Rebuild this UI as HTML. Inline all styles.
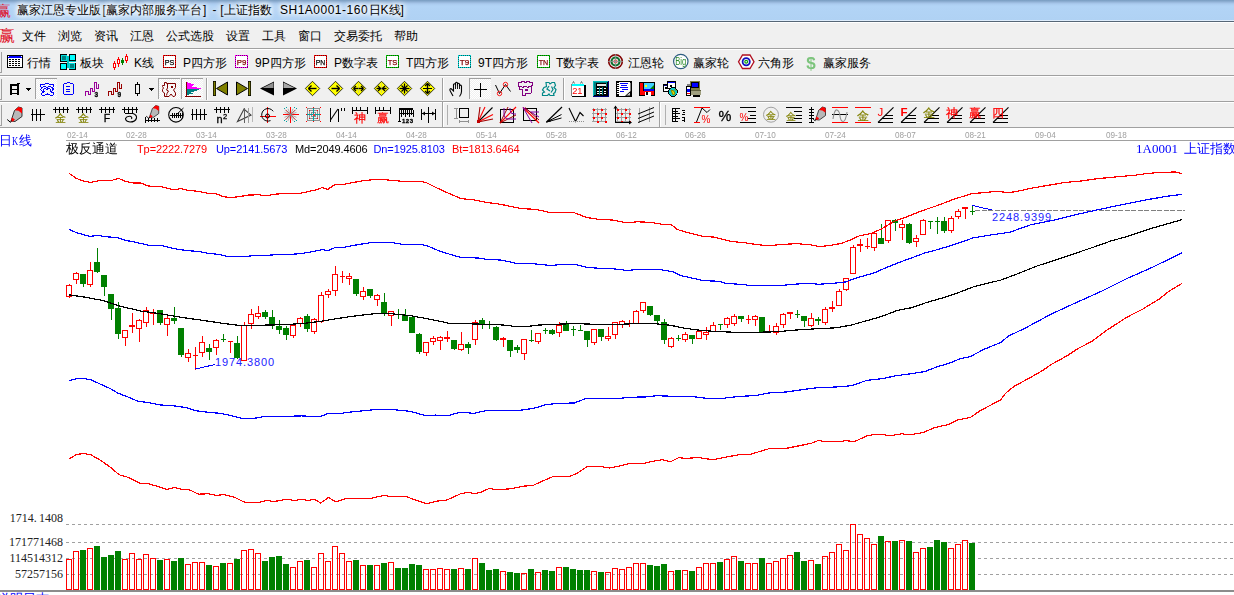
<!DOCTYPE html>
<html lang="zh"><head><meta charset="utf-8"><title>赢家江恩专业版</title>
<style>
html,body{margin:0;padding:0}
body{width:1234px;height:595px;overflow:hidden;position:relative;background:#fff;font-family:"Liberation Sans",sans-serif;font-size:12px;color:#000}
.a{position:absolute;white-space:nowrap}
.ui{position:absolute;left:0;top:0;width:1234px;height:128px;background:#f0f0f0}
.title{position:absolute;left:0;top:0;width:1234px;height:21px;background:linear-gradient(180deg,#789cc0 0px,#84a7cb 1px,#93b3d7 2px,#a1c1e5 3px,#abcbef 4px,#b2d4f6 6px,#b0d2f4 19px,#afd1f3 20px,#deedfc 20px,#deedfc 21px)}
.tt{position:absolute;left:17px;top:2px;font-size:12px;line-height:16px;color:#000;text-shadow:0 0 5px #fff,0 0 5px #fff,0 0 7px #fff,0 0 9px #fff}
.hl{position:absolute;left:0;width:1234px;height:1px}
.mi{position:absolute;top:27.5px;font-size:12px;line-height:16px}
.tl{position:absolute;font-size:12px;line-height:16px}
.grip{position:absolute;width:2px;border-right:1px solid #a0a0a0;border-bottom:1px solid #a0a0a0;left:0;height:21px;box-sizing:border-box}
.sep{position:absolute;width:1px;height:22px;background:#a0a0a0;box-shadow:1px 0 0 #fff}
.pb{position:absolute;width:23px;height:22px;box-sizing:border-box;border:1px solid;border-color:#a0a0a0 #fff #fff #a0a0a0;background:repeating-conic-gradient(#fff 0% 25%,#f0f0f0 0% 50%) 0 0/2px 2px}
svg{position:absolute;overflow:visible}
.dt{position:absolute;top:129.4px;font-size:9.6px;line-height:11px;color:#a0a0a0;transform:scaleX(.85);transform-origin:0 0}
.ind{position:absolute;top:143px;font-size:11px;line-height:13px;letter-spacing:-.1px}
.ss{font-family:"Liberation Serif",serif}
.vl{position:absolute;right:1171px;font-family:"Liberation Serif",serif;font-size:12px;line-height:12px;color:#222}
</style></head><body>

<div class="ui">
<div class="title"></div>
<div class="a ss" style="left:-4px;top:2px;font-size:15px;line-height:18px;color:#e0102a">赢</div>
<div class="tt" style="left:17px;letter-spacing:0px">赢家江恩专业版</div>
<div class="tt" style="left:102.5px;letter-spacing:0px">[</div>
<div class="tt" style="left:106px;letter-spacing:0px">赢家内部服务平台</div>
<div class="tt" style="left:203px;letter-spacing:0px">]</div>
<div class="tt" style="left:212.5px;letter-spacing:0px">-</div>
<div class="tt" style="left:220.3px;letter-spacing:0px">[</div>
<div class="tt" style="left:224px;letter-spacing:0px">上证指数</div>
<div class="tt" style="left:280px;letter-spacing:0.5px">SH1A0001-160</div>
<div class="tt" style="left:368.5px;letter-spacing:0px">日K线]</div>
<div class="hl" style="top:21px;background:#566676"></div>
<div class="hl" style="top:22px;background:#fff"></div>
<div class="a ss" style="left:-1.5px;top:25.5px;font-size:16px;line-height:20px;color:#e0102a">赢</div>
<div class="mi" style="left:22px">文件</div>
<div class="mi" style="left:58px">浏览</div>
<div class="mi" style="left:94px">资讯</div>
<div class="mi" style="left:130px">江恩</div>
<div class="mi" style="left:166px">公式选股</div>
<div class="mi" style="left:226px">设置</div>
<div class="mi" style="left:262px">工具</div>
<div class="mi" style="left:298px">窗口</div>
<div class="mi" style="left:334px">交易委托</div>
<div class="mi" style="left:394px">帮助</div>
<div class="hl" style="top:48px;background:#a0a0a0"></div>
<div class="hl" style="top:49px;background:#fff"></div>
<div class="hl" style="top:75px;background:#a0a0a0"></div>
<div class="hl" style="top:76px;background:#fff"></div>
<div class="hl" style="top:101px;background:#a0a0a0"></div>
<div class="hl" style="top:102px;background:#fff"></div>
<div class="hl" style="top:127px;background:#a0a0a0"></div>
<div class="grip" style="top:52px"></div>
<div class="tl" style="left:27px;top:55px">行情</div>
<div class="tl" style="left:80px;top:55px">板块</div>
<div class="tl" style="left:134px;top:55px">K线</div>
<div class="tl" style="left:183px;top:55px">P四方形</div>
<div class="tl" style="left:255px;top:55px">9P四方形</div>
<div class="tl" style="left:334px;top:55px">P数字表</div>
<div class="tl" style="left:406px;top:55px">T四方形</div>
<div class="tl" style="left:478px;top:55px">9T四方形</div>
<div class="tl" style="left:556px;top:55px">T数字表</div>
<div class="tl" style="left:628px;top:55px">江恩轮</div>
<div class="tl" style="left:693px;top:55px">赢家轮</div>
<div class="tl" style="left:758px;top:55px">六角形</div>
<div class="tl" style="left:823px;top:55px">赢家服务</div>
<svg width="1234" height="128" style="left:0;top:0;will-change:transform" shape-rendering="crispEdges" font-family="Liberation Sans, sans-serif"><rect x="7" y="55" width="16" height="13" fill="#000"/><rect x="8" y="56" width="14" height="2" fill="#00f"/><rect x="8" y="58" width="14" height="9" fill="#fff"/><rect x="9" y="59" width="2" height="1" fill="#000"/><rect x="12" y="59" width="2" height="1" fill="#000"/><rect x="15" y="59" width="2" height="1" fill="#000"/><rect x="18" y="59" width="2" height="1" fill="#000"/><rect x="9" y="61" width="2" height="1" fill="#000"/><rect x="12" y="61" width="2" height="1" fill="#000"/><rect x="15" y="61" width="2" height="1" fill="#000"/><rect x="18" y="61" width="2" height="1" fill="#000"/><rect x="9" y="63" width="2" height="1" fill="#000"/><rect x="12" y="63" width="2" height="1" fill="#000"/><rect x="15" y="63" width="2" height="1" fill="#000"/><rect x="18" y="63" width="2" height="1" fill="#000"/><rect x="9" y="65" width="2" height="1" fill="#000"/><rect x="12" y="65" width="2" height="1" fill="#000"/><rect x="15" y="65" width="2" height="1" fill="#000"/><rect x="18" y="65" width="2" height="1" fill="#000"/><rect x="21" y="56" width="1" height="1" fill="#fff"/><rect x="8" y="56" width="1" height="1" fill="#fff"/><rect x="60" y="54" width="16" height="16" fill="#00c8c8"/><rect x="60" y="54" width="8" height="8" fill="#000"/><rect x="61" y="55" width="6" height="6" fill="#00e0e0"/><rect x="62" y="56" width="4" height="4" fill="#008080"/><rect x="69" y="54" width="7" height="7" fill="#000"/><rect x="70" y="55" width="5" height="5" fill="#0ff"/><rect x="60" y="63" width="7" height="7" fill="#000"/><rect x="61" y="64" width="5" height="5" fill="#0ff"/><rect x="68" y="62" width="8" height="8" fill="#000"/><rect x="69" y="63" width="6" height="6" fill="#00e0e0"/><rect x="70" y="64" width="4" height="4" fill="#008080"/><rect x="67" y="54" width="2" height="16" fill="#f0f0f0"/><rect x="60" y="61.5" width="16" height="1" fill="#f0f0f0"/><rect x="67" y="56" width="2" height="12" fill="#00c8c8"/><rect x="114" y="61" width="1" height="9" fill="#f00"/><rect x="113" y="63" width="3" height="5" fill="#f00"/><rect x="114" y="64" width="1" height="3" fill="#fff"/><rect x="118" y="57" width="1" height="10" fill="#f00"/><rect x="117" y="59" width="3" height="5" fill="#f00"/><rect x="118" y="60" width="1" height="3" fill="#fff"/><rect x="122" y="58" width="1" height="7" fill="#008000"/><rect x="121" y="60" width="3" height="3" fill="#008000"/><rect x="122" y="61" width="1" height="1" fill="#008000"/><rect x="126" y="54" width="1" height="9" fill="#f00"/><rect x="125" y="56" width="3" height="5" fill="#f00"/><rect x="126" y="57" width="1" height="3" fill="#fff"/><rect x="163" y="55" width="13" height="13" fill="#f00"/><rect x="164" y="56" width="11" height="11" fill="#fff"/><rect x="163.5" y="55.5" width="12" height="12" fill="none" stroke="#000" stroke-dasharray="1 1" stroke-opacity=".55"/><text x="169.5" y="65" font-size="8" fill="#000" text-anchor="middle" textLength="9.5" lengthAdjust="spacingAndGlyphs" stroke="#000" stroke-width=".25" shape-rendering="geometricPrecision">PS</text><rect x="235" y="55" width="13" height="13" fill="#f0f"/><rect x="236" y="56" width="11" height="11" fill="#fff"/><rect x="235.5" y="55.5" width="12" height="12" fill="none" stroke="#000" stroke-dasharray="1 1" stroke-opacity=".55"/><text x="241.5" y="65" font-size="8" fill="#800000" text-anchor="middle" textLength="9.5" lengthAdjust="spacingAndGlyphs" stroke="#800000" stroke-width=".25" shape-rendering="geometricPrecision">P9</text><rect x="314" y="55" width="13" height="13" fill="#f00"/><rect x="315" y="56" width="11" height="11" fill="#fff"/><rect x="314.5" y="55.5" width="12" height="12" fill="none" stroke="#000" stroke-dasharray="1 1" stroke-opacity=".55"/><text x="320.5" y="65" font-size="8" fill="#000" text-anchor="middle" textLength="9.5" lengthAdjust="spacingAndGlyphs" stroke="#000" stroke-width=".25" shape-rendering="geometricPrecision">PN</text><rect x="386" y="55" width="13" height="13" fill="#0c0"/><rect x="387" y="56" width="11" height="11" fill="#fff"/><rect x="386.5" y="55.5" width="12" height="12" fill="none" stroke="#000" stroke-dasharray="1 1" stroke-opacity=".55"/><text x="392.5" y="65" font-size="8" fill="#800000" text-anchor="middle" textLength="9.5" lengthAdjust="spacingAndGlyphs" stroke="#800000" stroke-width=".25" shape-rendering="geometricPrecision">TS</text><rect x="458" y="55" width="13" height="13" fill="#0dd"/><rect x="459" y="56" width="11" height="11" fill="#fff"/><rect x="458.5" y="55.5" width="12" height="12" fill="none" stroke="#000" stroke-dasharray="1 1" stroke-opacity=".55"/><text x="464.5" y="65" font-size="8" fill="#800000" text-anchor="middle" textLength="9.5" lengthAdjust="spacingAndGlyphs" stroke="#800000" stroke-width=".25" shape-rendering="geometricPrecision">T9</text><rect x="537" y="55" width="13" height="13" fill="#0c0"/><rect x="538" y="56" width="11" height="11" fill="#fff"/><rect x="537.5" y="55.5" width="12" height="12" fill="none" stroke="#000" stroke-dasharray="1 1" stroke-opacity=".55"/><text x="543.5" y="65" font-size="8" fill="#800000" text-anchor="middle" textLength="9.5" lengthAdjust="spacingAndGlyphs" stroke="#800000" stroke-width=".25" shape-rendering="geometricPrecision">TN</text><g shape-rendering="geometricPrecision"><circle cx="615.5" cy="61.5" r="6.8" stroke="#800000" fill="#f0f0f0" stroke-width="1.6"/><circle cx="615.5" cy="61.5" r="4" stroke="#107030" fill="none" stroke-width="2.2"/><circle cx="615.5" cy="61.5" r="1.6" stroke="#e03030" fill="#fff" stroke-width="1"/><line x1="608" y1="61.5" x2="623" y2="61.5" stroke="#909090" stroke-width="0.8" /><line x1="615.5" y1="54" x2="615.5" y2="69" stroke="#909090" stroke-width="0.8" /><circle cx="680.8" cy="61.5" r="7.2" stroke="#2c5c80" fill="#fff" stroke-width="1.2"/><text x="680.8" y="65" font-size="10.5" fill="#2a8a2a" text-anchor="middle" textLength="11" lengthAdjust="spacingAndGlyphs">Big</text><path d="M738.5 61.8L742.5 55h7.5L754 61.8L750 68.5h-7.5z" stroke="#b01020" fill="#fff" stroke-width="1.3" /><circle cx="746.2" cy="61.8" r="3.6" stroke="#1010c0" fill="#fff" stroke-width="1.8"/><circle cx="746.2" cy="61.8" r="1.4" stroke="#10a010" fill="#fff" stroke-width="1.2"/><text x="811" y="68.5" font-size="17" fill="#7cc47c" text-anchor="middle" font-weight="bold">$</text></g></svg>
<div class="grip" style="top:79px"></div>
<div class="pb" style="left:35px;top:78px;height:21px;width:22px;border-right:0;border-bottom:0"></div>
<div class="pb" style="left:158px;top:78px;height:21px;width:22px;border-right:0;border-bottom:0"></div>
<div class="pb" style="left:181px;top:78px;height:21px;width:22px;border-right:0;border-bottom:0"></div>
<div class="pb" style="left:469px;top:78px;height:21px;width:22px;border-right:0;border-bottom:0"></div>
<div class="sep" style="left:206px;top:78px"></div>
<div class="sep" style="left:442px;top:78px"></div>
<div class="sep" style="left:563px;top:78px"></div>
<svg width="1234" height="128" style="left:0;top:0;will-change:transform" shape-rendering="crispEdges" font-family="Liberation Sans, sans-serif"><rect x="10" y="84" width="2" height="11" fill="#000"/><rect x="17" y="83" width="2" height="12" fill="#000"/><rect x="10" y="84" width="9" height="1.5" fill="#000"/><rect x="10" y="89" width="9" height="1.2" fill="#000"/><rect x="10" y="92.8" width="9" height="1.2" fill="#000"/><rect x="19" y="83" width="1" height="1" fill="#000"/><rect x="26" y="88" width="5" height="1" fill="#000"/><rect x="27" y="89" width="3" height="1" fill="#000"/><rect x="28" y="90" width="1" height="1" fill="#000"/><rect x="149" y="88" width="5" height="1" fill="#000"/><rect x="150" y="89" width="3" height="1" fill="#000"/><rect x="151" y="90" width="1" height="1" fill="#000"/><g shape-rendering="geometricPrecision"><path d="M45 83h4v1h-4zM40 84h5v1h-5zM49 84h5v1h-5zM40 85h1v1h-1zM53 85h1v1h-1zM40 86h1v1h-1zM43 86h3v1h-3zM48 86h3v1h-3zM53 86h1v1h-1zM41 87h2v1h-2zM46 87h2v1h-2zM51 87h2v1h-2zM41 88h1v1h-1zM44 88h2v1h-2zM47 88h3v1h-3zM52 88h2v1h-2zM40 89h1v1h-1zM43 89h1v1h-1zM46 89h2v1h-2zM50 89h1v1h-1zM52 89h2v1h-2zM41 90h1v1h-1zM43 90h1v1h-1zM50 90h1v1h-1zM52 90h1v1h-1zM42 91h3v1h-3zM50 91h2v1h-2zM42 92h2v1h-2zM51 92h3v1h-3zM41 93h1v1h-1zM47 93h1v1h-1zM53 93h1v1h-1zM41 94h1v1h-1zM45 94h5v1h-5zM53 94h1v1h-1zM42 95h3v1h-3zM50 95h3v1h-3z" fill="#00f" shape-rendering="crispEdges"/><path d="M67 82h3v1h-3zM64 83h3v1h-3zM70 83h3v1h-3zM64 94h9v1h-9zM63 86h1v1h-1zM66 86h4v1h-4zM73 86h1v1h-1zM63 89h1v1h-1zM66 89h4v1h-4zM73 89h1v1h-1zM63 91h1v1h-1zM66 91h4v1h-4zM73 91h1v1h-1zM63 84h1v1h-1zM73 84h1v1h-1zM63 85h1v1h-1zM73 85h1v1h-1zM63 87h1v1h-1zM73 87h1v1h-1zM63 88h1v1h-1zM73 88h1v1h-1zM63 90h1v1h-1zM73 90h1v1h-1zM63 92h1v1h-1zM73 92h1v1h-1zM63 93h1v1h-1zM73 93h1v1h-1z" fill="#00f" shape-rendering="crispEdges"/></g><path d="M85.5 96V91.500h2.500V94h2V88.500h2V91.500h2V82.500h2V88h2V84" stroke="#909" fill="none" stroke-width="1" /><g shape-rendering="geometricPrecision"><text x="94.5" y="97" font-size="6.5" fill="#000" font-weight="bold" stroke="#000" stroke-width=".3">3</text></g><path d="M108.5 96V91.500h2.500V94h2V88.500h2V91.500h2V82.500h2V88h2V84" stroke="#900" fill="none" stroke-width="1" /><g shape-rendering="geometricPrecision"><text x="117.5" y="97" font-size="6.5" fill="#000" font-weight="bold" stroke="#000" stroke-width=".3">9</text></g><rect x="137" y="82" width="1" height="14" fill="#000"/><rect x="135" y="84" width="5" height="10" fill="#000"/><rect x="136" y="85" width="3" height="8" fill="#f0f0f0"/><g shape-rendering="geometricPrecision"><path d="M164.500 82.500H166.500V83.500H175.500V87.500L173.500 90L175.500 93V95.500L174 96.500H173L171 94L169 96.500H164.500V93L162.500 91.500V89.500L163.500 88L162.500 86.500V85.500H164.500ZM167.500 84V88L166.500 90L168.500 91L167 93.500L166.500 95.500" stroke="#800000" fill="none" stroke-width="1" /><rect x="171" y="86" width="2" height="2" fill="#800000"/></g><rect x="186" y="82" width="1" height="15" fill="#800000"/><rect x="185" y="96" width="16" height="1" fill="#800000"/><path d="M187 82h1v1h-1zM187 83h4v1h-4zM187 84h7v1h-7zM187 85h6v1h-6zM187 86h5v1h-5zM187 87h10v1h-10zM187 88h14v1h-14z" fill="#f0f" shape-rendering="crispEdges"/><path d="M187 89h12v1h-12zM187 90h10v1h-10zM187 91h7v1h-7zM187 92h4v1h-4zM187 93h6v1h-6zM187 94h2v1h-2z" fill="#008080" shape-rendering="crispEdges"/><g shape-rendering="geometricPrecision"><rect x="213" y="81" width="3" height="15" fill="#000"/><rect x="213.7" y="81.7" width="1.6" height="13.6" fill="#808000"/><path d="M216.500 88.500L227.500 82v13z" stroke="#000" fill="#808000" stroke-width="1" /><rect x="248" y="81" width="3" height="15" fill="#000"/><rect x="248.7" y="81.7" width="1.6" height="13.6" fill="#808000"/><path d="M247.500 88.500L236.500 82v13z" stroke="#000" fill="#808000" stroke-width="1" /><path d="M260 88.500L274 81.500v14z" stroke="none" fill="#000" stroke-width="0" /><path d="M262.500 88L273.500 82.500v5.500z" stroke="none" fill="#909090" stroke-width="0" /><path d="M297 88.500L283 81.500v14z" stroke="none" fill="#000" stroke-width="0" /><path d="M294.500 88L283.500 82.500v5.500z" stroke="none" fill="#a8a8a8" stroke-width="0" /><path d="M305.3 88.5L312.5 81.3L319.7 88.5L312.5 95.7z" stroke="#000" fill="#ff0" stroke-width="0.8" shape-rendering="geometricPrecision"/><line x1="308.5" y1="88.5" x2="316.5" y2="88.5" stroke="#000" stroke-width="1.4" shape-rendering="geometricPrecision"/><path d="M308.5 88.5l3 -3M308.5 88.5l3 3" stroke="#000" fill="none" stroke-width="1.4" shape-rendering="geometricPrecision"/><path d="M328.3 88.5L335.5 81.3L342.7 88.5L335.5 95.7z" stroke="#000" fill="#ff0" stroke-width="0.8" shape-rendering="geometricPrecision"/><line x1="331.5" y1="88.5" x2="339.5" y2="88.5" stroke="#000" stroke-width="1.4" shape-rendering="geometricPrecision"/><path d="M339.5 88.5l-3 -3M339.5 88.5l-3 3" stroke="#000" fill="none" stroke-width="1.4" shape-rendering="geometricPrecision"/><path d="M351.3 88.5L358.5 81.3L365.7 88.5L358.5 95.7z" stroke="#000" fill="#ff0" stroke-width="0.8" shape-rendering="geometricPrecision"/><line x1="353.5" y1="88.5" x2="363.5" y2="88.5" stroke="#000" stroke-width="1.4" shape-rendering="geometricPrecision"/><path d="M353.5 88.5l2.5 -2.5M353.5 88.5l2.5 2.5M363.5 88.5l-2.5 -2.5M363.5 88.5l-2.5 2.5" stroke="#000" fill="none" stroke-width="1.3" shape-rendering="geometricPrecision"/><line x1="358.5" y1="83.5" x2="358.5" y2="93.5" stroke="#bb9" stroke-width="1" shape-rendering="geometricPrecision" stroke-dasharray="1 1"/><path d="M374.3 88.5L381.5 81.3L388.7 88.5L381.5 95.7z" stroke="#000" fill="#ff0" stroke-width="0.8" shape-rendering="geometricPrecision"/><line x1="376.5" y1="88.5" x2="386.5" y2="88.5" stroke="#000" stroke-width="1.4" shape-rendering="geometricPrecision"/><path d="M380.5 88.5l-2.5 -2.5M380.5 88.5l-2.5 2.5M382.5 88.5l2.5 -2.5M382.5 88.5l2.5 2.5" stroke="#000" fill="none" stroke-width="1.3" shape-rendering="geometricPrecision"/><line x1="381.5" y1="83.5" x2="381.5" y2="93.5" stroke="#bb9" stroke-width="1" shape-rendering="geometricPrecision" stroke-dasharray="1 1"/><path d="M397.3 88.5L404.5 81.3L411.7 88.5L404.5 95.7z" stroke="#000" fill="#ff0" stroke-width="0.8" shape-rendering="geometricPrecision"/><line x1="399.5" y1="88.5" x2="409.5" y2="88.5" stroke="#000" stroke-width="1.3" shape-rendering="geometricPrecision"/><line x1="404.5" y1="83.5" x2="404.5" y2="93.5" stroke="#000" stroke-width="1.3" shape-rendering="geometricPrecision"/><line x1="401.5" y1="85.5" x2="407.5" y2="91.5" stroke="#000" stroke-width="1.2" shape-rendering="geometricPrecision"/><line x1="401.5" y1="91.5" x2="407.5" y2="85.5" stroke="#000" stroke-width="1.2" shape-rendering="geometricPrecision"/><path d="M420.3 88.5L427.5 81.3L434.7 88.5L427.5 95.7z" stroke="#000" fill="#ff0" stroke-width="0.8" shape-rendering="geometricPrecision"/><line x1="427.5" y1="83.5" x2="427.5" y2="93.5" stroke="#000" stroke-width="1.4" shape-rendering="geometricPrecision"/><line x1="423" y1="88.5" x2="432" y2="88.5" stroke="#000" stroke-width="1" shape-rendering="geometricPrecision"/><path d="M427.5 83.5l-2.5 2.5M427.5 83.5l2.5 2.5M427.5 93.5l-2.5 -2.5M427.5 93.5l2.5 -2.5" stroke="#000" fill="none" stroke-width="1.3" shape-rendering="geometricPrecision"/><path d="M453 96l-2.500-4.500q-1.500-2.500 .5-3l2.500 2.500v-6.500q1-1.500 2 0v-1.500q1-1.500 2 0v1q1-1.500 2 0v1.500q1-1 2 .5v5.500q0 2.500-2 5" stroke="#000" fill="none" stroke-width="1.1" /><line x1="455.5" y1="85" x2="455.5" y2="89" stroke="#000" stroke-width="0.9" /><line x1="457.5" y1="84" x2="457.5" y2="89" stroke="#000" stroke-width="0.9" /><line x1="459.5" y1="85" x2="459.5" y2="89" stroke="#000" stroke-width="0.9" /></g><rect x="474" y="89" width="13" height="1" fill="#000"/><rect x="480" y="83" width="1" height="14" fill="#000"/><g shape-rendering="geometricPrecision"><path d="M495.500 85l4 8.500 6-9 5 7" stroke="#000" fill="none" stroke-width="1" /><circle cx="499.5" cy="93.5" r="2.2" stroke="#f00" fill="none" stroke-width="0.9"/><circle cx="505.5" cy="84.5" r="2.2" stroke="#f00" fill="none" stroke-width="0.9"/></g><path d="M518.500 82.500H521.500V81.500H524.500V82.500H526.500V81.500H529.500V82.500H532.500V85.500H531.500V92.500L530.500 93.500H525.500V95.500H522.500V89.500H519.500V86.500H518.500ZM519.500 86.500H521.500L522.500 87.500L524.500 86.500H526.500L527.500 87.500L529.500 86.500H531.500" stroke="#800080" fill="none" stroke-width="1" /><rect x="525" y="89" width="3" height="2" fill="#800080"/><g shape-rendering="geometricPrecision"><path d="M546 82.500h3l1 1.500 2-1.500h2.500l1 3-1.500 2 2 2-1 3-1.500 1 .5 2h-4l-1-1.500-1.500 1.500h-5v-2.500l2-1-2-2 1.500-2.500 2.500-1zM549 86l-2 3 3 2M551.500 86.500l1.500 3-2 3" stroke="#008888" fill="none" stroke-width="1.2" /></g><rect x="572" y="85" width="14" height="12" fill="#000"/><rect x="571" y="84" width="13" height="12" fill="#808080"/><rect x="572" y="84" width="12" height="12" fill="#fff"/><rect x="572" y="84" width="12" height="2" fill="#0ff"/><path d="M572.500 83.500l1-2 1 2M580.500 83.500l1-2 1 2" stroke="#606060" fill="none" stroke-width="0.9" shape-rendering="geometricPrecision"/><text x="577.3" y="94" font-size="9.3" fill="#f00" text-anchor="middle" shape-rendering="geometricPrecision">21</text><rect x="593" y="81" width="16" height="16" fill="#000080"/><rect x="593" y="81" width="15" height="15" fill="#00c0c0"/><rect x="594" y="82" width="14" height="14" fill="#000"/><rect x="594" y="82" width="13" height="13" fill="#008080"/><rect x="596" y="83" width="10" height="4" fill="#000"/><rect x="597" y="84" width="9" height="2" fill="#e8e8e8"/><rect x="596" y="87" width="11" height="8" fill="#000"/><rect x="596.5" y="88" width="2" height="1.2" fill="#fff"/><rect x="600" y="88" width="2" height="1.2" fill="#fff"/><rect x="603.5" y="88" width="2" height="1.2" fill="#fff"/><rect x="596.5" y="90.5" width="2" height="1.2" fill="#fff"/><rect x="600" y="90.5" width="2" height="1.2" fill="#fff"/><rect x="603.5" y="90.5" width="2" height="1.2" fill="#fff"/><rect x="596.5" y="93" width="2" height="1.2" fill="#fff"/><rect x="600" y="93" width="2" height="1.2" fill="#fff"/><rect x="603.5" y="93" width="2" height="1.2" fill="#fff"/><rect x="598.8" y="87" width="1" height="8" fill="#008080"/><rect x="602.4" y="87" width="1" height="8" fill="#008080"/><rect x="616" y="81" width="16" height="16" fill="#000"/><rect x="619" y="82" width="11" height="14" fill="#fff"/><rect x="630" y="83" width="1" height="12" fill="#808080"/><rect x="631" y="82" width="1" height="1" fill="#000"/><rect x="617" y="83" width="1.5" height="1" fill="#fff"/><rect x="617" y="85" width="1.5" height="1" fill="#fff"/><rect x="617" y="87" width="1.5" height="1" fill="#fff"/><rect x="617" y="89" width="1.5" height="1" fill="#fff"/><rect x="617" y="91" width="1.5" height="1" fill="#fff"/><rect x="617" y="93" width="1.5" height="1" fill="#fff"/><rect x="620" y="83" width="8" height="1" fill="#00f"/><rect x="621" y="85" width="6" height="1" fill="#00f"/><rect x="620" y="87" width="8" height="1" fill="#00f"/><rect x="622" y="89" width="6" height="1" fill="#00f"/><rect x="620" y="91" width="4" height="1" fill="#00f"/><path d="M625.500 96L630.500 91.500V96z" stroke="#000" fill="#c8c8c8" stroke-width="1" shape-rendering="geometricPrecision"/><rect x="639" y="82" width="16" height="14" fill="#000"/><rect x="640" y="83" width="3" height="12" fill="#f00"/><rect x="643" y="91" width="11" height="4" fill="#f00"/><rect x="644" y="83" width="10" height="8" fill="#40d0ff"/><rect x="645" y="92" width="6" height="4" fill="#fff"/><rect x="646" y="92" width="2" height="3" fill="#000"/><path d="M649 90l5-5v5z" stroke="none" fill="#008000" stroke-width="0" shape-rendering="geometricPrecision"/><rect x="645" y="85" width="2" height="1.5" fill="#ff0"/><rect x="644" y="89" width="10" height="2" fill="#00f"/><rect x="663" y="84" width="9" height="8" fill="#000"/><rect x="664" y="86" width="7" height="5" fill="#fff"/><rect x="664" y="85" width="7" height="1" fill="#000080"/><rect x="667" y="81" width="9" height="8" fill="#000"/><rect x="668" y="83" width="7" height="5" fill="#fff"/><rect x="668" y="82" width="7" height="1" fill="#00f"/><rect x="665" y="87" width="2" height="2" fill="#000"/><rect x="670" y="85" width="2" height="2" fill="#000"/><circle cx="673" cy="92" r="4.3" stroke="#000" fill="#0cc" stroke-width="1"/><path d="M671 90l3 1 1 3-2 1zM674.500 89.500l2 1" stroke="#880" fill="#dd0" stroke-width="1" shape-rendering="geometricPrecision"/><rect x="690" y="81" width="10" height="9" fill="#808040"/><rect x="691" y="82" width="8" height="6" fill="#000"/><rect x="692" y="83" width="6" height="4" fill="#00f"/><rect x="689" y="91" width="12" height="4" fill="#a0a080"/><rect x="689" y="90" width="12" height="1" fill="#606040"/><rect x="693" y="95" width="7" height="2" fill="#000"/><rect x="686" y="86" width="5" height="10" fill="#000"/><rect x="687" y="87" width="3" height="8" fill="#fff"/><rect x="687" y="89" width="3" height="3" fill="#00f"/><rect x="687" y="93" width="3" height="1" fill="#f00"/><rect x="687" y="84" width="3" height="2" fill="#808080"/></svg>
<div class="grip" style="top:105px"></div>
<div class="sep" style="left:442px;top:102px;height:25px"></div><div class="sep" style="left:659px;top:102px;height:25px"></div>
<div class="a" style="left:447px;top:105px;width:1px;height:20px;background:#b0b0b0"></div><div class="a" style="left:665px;top:105px;width:1px;height:20px;background:#b0b0b0"></div>
<svg width="1234" height="128" style="left:0;top:0;will-change:transform" shape-rendering="crispEdges" font-family="Liberation Sans, sans-serif"><g shape-rendering="geometricPrecision"><path d="M11 121L14.5 110.5L18.5 107L22 108L22 116.5L15 121.5z" stroke="#202020" fill="#b8b8b8" stroke-width="0.9" /><path d="M14.8 110.3L18.5 107L22 108L22 113.5L18.5 110.8z" stroke="none" fill="#f00" stroke-width="0" /><path d="M10.8 121.2L12 117.5L15 119.5L13 121.5z" stroke="none" fill="#f00" stroke-width="0" /><path d="M7.2 119.5l3.300 2.800 1-1.800" stroke="#000" fill="none" stroke-width="1" /></g><rect x="31" y="114" width="14" height="1" fill="#000"/><rect x="32" y="109" width="1" height="12" fill="#000"/><rect x="36" y="109" width="1" height="12" fill="#000"/><rect x="40" y="109" width="1" height="12" fill="#000"/><rect x="53" y="109" width="16" height="1" fill="#000"/><rect x="55" y="107" width="1" height="6" fill="#000"/><rect x="59" y="107" width="1" height="6" fill="#000"/><rect x="63" y="107" width="1" height="6" fill="#000"/><rect x="67" y="107" width="1" height="6" fill="#000"/><text x="60.5" y="121.5" font-size="11" fill="#808000" text-anchor="middle" shape-rendering="geometricPrecision" stroke="#808000" stroke-width=".2">金</text><rect x="76" y="109" width="16" height="1" fill="#000"/><rect x="78" y="107" width="1" height="6" fill="#000"/><rect x="82" y="107" width="1" height="6" fill="#000"/><rect x="86" y="107" width="1" height="6" fill="#000"/><rect x="90" y="107" width="1" height="6" fill="#000"/><text x="83.5" y="121.5" font-size="11" fill="#808000" text-anchor="middle" shape-rendering="geometricPrecision" stroke="#808000" stroke-width=".2">金</text><rect x="99" y="109" width="16" height="1" fill="#000"/><rect x="101" y="107" width="1" height="6" fill="#000"/><rect x="105" y="107" width="1" height="6" fill="#000"/><rect x="109" y="107" width="1" height="6" fill="#000"/><rect x="113" y="107" width="1" height="6" fill="#000"/><text x="107" y="122" font-size="10.5" fill="#000" text-anchor="middle" shape-rendering="geometricPrecision" stroke="#000" stroke-width=".3">F</text><rect x="122" y="109" width="16" height="1" fill="#000"/><rect x="124" y="107" width="1" height="6" fill="#000"/><rect x="128" y="107" width="1" height="6" fill="#000"/><rect x="132" y="107" width="1" height="6" fill="#000"/><rect x="136" y="107" width="1" height="6" fill="#000"/><path d="M125 113.500H133Q137 115 136.500 118Q135.500 122 130 122Q125.500 121.500 125.500 118.500Q126.500 116 130 116.300Q132.500 117 131.500 119" stroke="#000" fill="none" stroke-width="1.1" shape-rendering="geometricPrecision"/><g transform="translate(146 105.5) scale(0.85)"><g shape-rendering="geometricPrecision"><path d="M4 14L7.5 3.5L11.5 0L15 1L15 9.5L8 14.5z" stroke="#202020" fill="#b8b8b8" stroke-width="0.9" /><path d="M7.8 3.3L11.5 0L15 1L15 6.5L11.5 3.8z" stroke="none" fill="#f00" stroke-width="0" /><path d="M3.8 14.2L5 10.5L8 12.5L6 14.5z" stroke="none" fill="#f00" stroke-width="0" /><path d="M0.2 12.5l3.300 2.800 1-1.800" stroke="#000" fill="none" stroke-width="1" /></g></g><rect x="145" y="120" width="15" height="1" fill="#000"/><rect x="145" y="117" width="1" height="6" fill="#000"/><rect x="148" y="118" width="1" height="4" fill="#000"/><rect x="151" y="118" width="1" height="4" fill="#000"/><rect x="154" y="118" width="1" height="4" fill="#000"/><rect x="157" y="118" width="1" height="4" fill="#000"/><g shape-rendering="geometricPrecision"><circle cx="176" cy="114.8" r="7.3" stroke="#000" fill="none" stroke-width="1.1"/><line x1="176" y1="115" x2="183.5" y2="108" stroke="#000" stroke-width="1" /></g><rect x="170" y="115" width="13" height="1" fill="#000"/><rect x="172" y="113" width="1" height="5" fill="#000"/><rect x="174" y="113" width="1" height="5" fill="#000"/><rect x="176" y="113" width="1" height="5" fill="#000"/><rect x="178" y="113" width="1" height="5" fill="#000"/><rect x="180" y="113" width="1" height="5" fill="#000"/><rect x="182" y="113" width="1" height="5" fill="#000"/><rect x="191" y="114" width="16" height="1" fill="#000"/><rect x="192" y="109" width="1" height="11" fill="#000"/><rect x="196" y="109" width="1" height="11" fill="#000"/><rect x="200" y="109" width="1" height="11" fill="#000"/><rect x="204" y="109" width="1" height="11" fill="#000"/><rect x="214" y="109" width="16" height="1" fill="#000"/><rect x="216" y="107" width="1" height="6" fill="#000"/><rect x="220" y="107" width="1" height="6" fill="#000"/><rect x="224" y="107" width="1" height="6" fill="#000"/><rect x="228" y="107" width="1" height="6" fill="#000"/><text x="216.5" y="123" font-size="11" fill="#000" shape-rendering="geometricPrecision" stroke="#000" stroke-width=".3">n</text><text x="223" y="118.5" font-size="7.5" fill="#000" shape-rendering="geometricPrecision" stroke="#000" stroke-width=".3">2</text><path d="M237.500 121.500L244 109l7 6z" stroke="#404040" fill="none" stroke-width="1.1" shape-rendering="geometricPrecision"/><rect x="244" y="108" width="1" height="15" fill="#606060"/><rect x="248" y="108" width="1" height="15" fill="#a0a0a0"/><rect x="252" y="107" width="1" height="15" fill="#b8b8b8"/><rect x="260" y="116" width="16" height="1" fill="#f00"/><rect x="267" y="107" width="1" height="16" fill="#f00"/><g shape-rendering="geometricPrecision"><path d="M273.200 111.300A6.300 6.300 0 1 0 270.500 120.600" stroke="#000" fill="none" stroke-width="1" /><circle cx="267.5" cy="116" r="2" stroke="#000" fill="none" stroke-width="1"/></g><rect x="283" y="114" width="16" height="1" fill="#f00"/><rect x="290" y="107" width="1" height="16" fill="#f00"/><g shape-rendering="geometricPrecision"><line x1="285.5" y1="109.8" x2="295.5" y2="119.8" stroke="#a03030" stroke-width="1" /><line x1="285.5" y1="119.8" x2="295.5" y2="109.8" stroke="#a03030" stroke-width="1" /><line x1="284.5" y1="112.3" x2="296.5" y2="117.3" stroke="#909090" stroke-width="0.7" /><line x1="284.5" y1="117.3" x2="296.5" y2="112.3" stroke="#909090" stroke-width="0.7" /><line x1="288" y1="108.8" x2="293" y2="120.8" stroke="#909090" stroke-width="0.7" /><line x1="293" y1="108.8" x2="288" y2="120.8" stroke="#909090" stroke-width="0.7" /></g><rect x="284" y="108.3" width="1" height="1" fill="#00a0a0"/><rect x="296" y="108.3" width="1" height="1" fill="#00a0a0"/><rect x="284" y="120.3" width="1" height="1" fill="#00a0a0"/><rect x="296" y="120.3" width="1" height="1" fill="#00a0a0"/><rect x="286" y="107.3" width="1" height="1" fill="#00a0a0"/><rect x="294" y="107.3" width="1" height="1" fill="#00a0a0"/><rect x="286" y="121.3" width="1" height="1" fill="#00a0a0"/><rect x="294" y="121.3" width="1" height="1" fill="#00a0a0"/><rect x="311.5" y="112.5" width="4" height="4" fill="none" stroke="#909090"/><rect x="309.5" y="110.5" width="8" height="8" fill="none" stroke="#909090"/><rect x="307.5" y="108.5" width="12" height="12" fill="none" stroke="#909090"/><rect x="306" y="114" width="15" height="1" fill="#00a0a0"/><rect x="313" y="107" width="1" height="15" fill="#00a0a0"/><rect x="312.5" y="113.5" width="2" height="2" fill="#e04040"/><rect x="306" y="107" width="1" height="1" fill="#f00"/><rect x="306" y="114" width="1" height="1" fill="#f00"/><rect x="306" y="121" width="1" height="1" fill="#f00"/><rect x="320" y="107" width="1" height="1" fill="#f00"/><rect x="320" y="114" width="1" height="1" fill="#f00"/><rect x="320" y="121" width="1" height="1" fill="#f00"/><rect x="313" y="107" width="1" height="1" fill="#f00"/><rect x="313" y="121" width="1" height="1" fill="#f00"/><rect x="309" y="110" width="1" height="1" fill="#f00"/><rect x="317" y="110" width="1" height="1" fill="#f00"/><rect x="309" y="118" width="1" height="1" fill="#f00"/><rect x="317" y="118" width="1" height="1" fill="#f00"/><rect x="330" y="108" width="1" height="14" fill="#000"/><rect x="338" y="109" width="1" height="13" fill="#000"/><rect x="341" y="108" width="1" height="3" fill="#000"/><rect x="344" y="108" width="1" height="3" fill="#000"/><line x1="330.5" y1="120" x2="338" y2="109" stroke="#000" stroke-width="1.1" shape-rendering="geometricPrecision"/><rect x="352" y="110" width="16" height="1" fill="#000"/><rect x="352" y="107" width="1" height="7" fill="#000"/><rect x="367" y="107" width="1" height="7" fill="#000"/><rect x="360" y="107" width="1" height="4" fill="#000"/><rect x="356" y="107" width="1" height="4" fill="#000"/><text x="360" y="122" font-size="11.5" fill="#f00" text-anchor="middle" shape-rendering="geometricPrecision" stroke="#f00" stroke-width=".2">神</text><rect x="375" y="110" width="16" height="1" fill="#000"/><rect x="375" y="107" width="1" height="7" fill="#000"/><rect x="390" y="107" width="1" height="7" fill="#000"/><rect x="383" y="107" width="1" height="4" fill="#000"/><rect x="379" y="107" width="1" height="4" fill="#000"/><text x="383" y="122" font-size="11.5" fill="#f00" text-anchor="middle" shape-rendering="geometricPrecision" stroke="#f00" stroke-width=".2">赢</text><rect x="399" y="108" width="14" height="2" fill="#000"/><rect x="399" y="108" width="1" height="14" fill="#000"/><rect x="398" y="121" width="3" height="1" fill="#000"/><rect x="401" y="110" width="1" height="7" fill="#000"/><rect x="403" y="110" width="1" height="5" fill="#000"/><rect x="405" y="110" width="1" height="7" fill="#000"/><rect x="407" y="110" width="1" height="5" fill="#000"/><rect x="409" y="110" width="1" height="7" fill="#000"/><rect x="411" y="110" width="1" height="5" fill="#000"/><rect x="413" y="110" width="1" height="7" fill="#000"/><rect x="400" y="113" width="13" height="1" fill="#000"/><text x="402" y="122.5" font-size="6" fill="#000" font-weight="bold" textLength="11" shape-rendering="geometricPrecision" stroke="#000" stroke-width=".3">123</text><rect x="421" y="109" width="1" height="11" fill="#000"/><rect x="435" y="109" width="1" height="11" fill="#000"/><rect x="428" y="107" width="1" height="16" fill="#000"/><rect x="422" y="113" width="13" height="1" fill="#000"/><path d="M422 113.500l3-2v4zM435 113.500l-3-2v4z" stroke="none" fill="#000" stroke-width="0" shape-rendering="geometricPrecision"/><rect x="459" y="108" width="10" height="10" fill="#000"/><rect x="460" y="109" width="8" height="8" fill="#f0f0f0"/><rect x="454" y="108" width="4" height="1" fill="#909090"/><rect x="454" y="118" width="4" height="1" fill="#909090"/><rect x="456" y="108" width="1" height="11" fill="#909090"/><rect x="459" y="120" width="1" height="3" fill="#909090"/><rect x="468" y="120" width="1" height="3" fill="#909090"/><rect x="459" y="121" width="10" height="1" fill="#909090"/><g shape-rendering="geometricPrecision"><line x1="478" y1="122" x2="480" y2="107" stroke="#a00000" stroke-width="1.1" /><line x1="478" y1="122" x2="485" y2="107" stroke="#f00" stroke-width="1.1" /><line x1="478" y1="122" x2="492.5" y2="107.5" stroke="#000" stroke-width="1.1" /><line x1="478" y1="122" x2="493" y2="114.5" stroke="#f00" stroke-width="1.1" /><line x1="478" y1="122" x2="493" y2="119" stroke="#a00000" stroke-width="1.1" /><rect x="477" y="120" width="3" height="3" fill="#c00000"/></g><rect x="500.500" y="109.500" width="13" height="13" fill="none" stroke="#000" stroke-width="1.300"/><g shape-rendering="geometricPrecision"><line x1="500" y1="123" x2="516" y2="107" stroke="#f00" stroke-width="1.2" /><line x1="500" y1="123" x2="508" y2="107" stroke="#a00000" stroke-width="1" /><line x1="500" y1="123" x2="516" y2="115" stroke="#a00000" stroke-width="1" /><path d="M504 108v6q0 5 5 5h7M510 108v2q0 4 4 4h2" stroke="#8000a0" fill="none" stroke-width="1" /></g><rect x="523.500" y="108.500" width="13" height="12" fill="none" stroke="#000" stroke-width="1.300"/><g shape-rendering="geometricPrecision"><line x1="523" y1="107.5" x2="539" y2="123" stroke="#f00" stroke-width="1.2" /><line x1="523" y1="107.5" x2="532" y2="123" stroke="#8000a0" stroke-width="1" /><line x1="523" y1="107.5" x2="539" y2="117" stroke="#8000a0" stroke-width="1" /><line x1="525" y1="107.5" x2="539" y2="120" stroke="#a00000" stroke-width="1" /><line x1="531" y1="112" x2="539" y2="112" stroke="#8000a0" stroke-width="1" /></g><g shape-rendering="geometricPrecision"><line x1="546.5" y1="122" x2="562" y2="107" stroke="#000" stroke-width="1.2" /><line x1="546.5" y1="122" x2="561.5" y2="114.5" stroke="#000" stroke-width="1" /><line x1="546.5" y1="122" x2="561.5" y2="118" stroke="#000" stroke-width="1" /><path d="M546 122.500l4-3.500 1 2.500z" stroke="none" fill="#000" stroke-width="0" /></g><g shape-rendering="geometricPrecision"><path d="M569 108l6.500 13.500 4.500-9 3.500 3.500" stroke="#000" fill="none" stroke-width="1.1" /></g><line x1="569" y1="121.5" x2="585" y2="121.5" stroke="#909090" stroke-width="1" stroke-dasharray="1 1"/><rect x="593" y="108" width="1" height="14" fill="#a0a0a0"/><rect x="592" y="109" width="15" height="1" fill="#a0a0a0"/><rect x="597" y="108" width="1" height="14" fill="#a0a0a0"/><rect x="592" y="113" width="15" height="1" fill="#a0a0a0"/><rect x="601" y="108" width="1" height="14" fill="#a0a0a0"/><rect x="592" y="117" width="15" height="1" fill="#a0a0a0"/><rect x="605" y="108" width="1" height="14" fill="#a0a0a0"/><rect x="592" y="121" width="15" height="1" fill="#a0a0a0"/><rect x="592.5" y="108.5" width="2" height="2" fill="#f00"/><rect x="592.5" y="116.5" width="2" height="2" fill="#f00"/><rect x="596.5" y="112.5" width="2" height="2" fill="#f00"/><rect x="596.5" y="120.5" width="2" height="2" fill="#f00"/><rect x="600.5" y="108.5" width="2" height="2" fill="#f00"/><rect x="600.5" y="116.5" width="2" height="2" fill="#f00"/><rect x="604.5" y="112.5" width="2" height="2" fill="#f00"/><rect x="604.5" y="120.5" width="2" height="2" fill="#f00"/><rect x="617" y="108" width="1" height="14" fill="#a0a0a0"/><rect x="616" y="109" width="15" height="1" fill="#a0a0a0"/><rect x="621" y="108" width="1" height="14" fill="#a0a0a0"/><rect x="616" y="113" width="15" height="1" fill="#a0a0a0"/><rect x="625" y="108" width="1" height="14" fill="#a0a0a0"/><rect x="616" y="117" width="15" height="1" fill="#a0a0a0"/><rect x="629" y="108" width="1" height="14" fill="#a0a0a0"/><rect x="616" y="121" width="15" height="1" fill="#a0a0a0"/><rect x="616.5" y="108.5" width="2" height="2" fill="#f00"/><rect x="616.5" y="116.5" width="2" height="2" fill="#f00"/><rect x="620.5" y="112.5" width="2" height="2" fill="#f00"/><rect x="620.5" y="120.5" width="2" height="2" fill="#f00"/><rect x="624.5" y="108.5" width="2" height="2" fill="#f00"/><rect x="624.5" y="116.5" width="2" height="2" fill="#f00"/><rect x="628.5" y="112.5" width="2" height="2" fill="#f00"/><rect x="628.5" y="120.5" width="2" height="2" fill="#f00"/><rect x="615" y="107" width="1" height="16" fill="#000"/><rect x="615" y="122" width="16" height="1" fill="#000"/><path d="M615.500 105.500l2 3h-4zM632 122.500l-3-2v4z" stroke="none" fill="#000" stroke-width="0" shape-rendering="geometricPrecision"/><rect x="639" y="108" width="1" height="15" fill="#a0a0a0"/><rect x="649" y="107" width="1" height="15" fill="#a0a0a0"/><g shape-rendering="geometricPrecision"><line x1="638" y1="114" x2="654" y2="107.5" stroke="#000" stroke-width="1" /><line x1="638" y1="118.5" x2="654" y2="112" stroke="#000" stroke-width="1" /><line x1="638" y1="122.5" x2="654" y2="116" stroke="#000" stroke-width="1" /></g><rect x="672" y="108" width="1" height="14" fill="#000"/><rect x="672" y="108" width="8" height="1" fill="#000"/><rect x="672" y="111" width="6" height="1" fill="#000"/><rect x="672" y="113" width="8" height="1" fill="#000"/><rect x="672" y="116" width="6" height="1" fill="#000"/><rect x="672" y="118" width="8" height="1" fill="#000"/><rect x="672" y="121" width="6" height="1" fill="#000"/><rect x="675" y="108" width="1" height="14" fill="#000"/><rect x="682" y="110" width="3" height="1" fill="#000"/><rect x="683" y="112" width="2" height="1" fill="#000"/><rect x="682" y="114" width="3" height="1" fill="#000"/><rect x="682" y="117" width="3" height="1" fill="#000"/><rect x="684" y="118" width="1" height="4" fill="#000"/><rect x="682" y="120" width="2" height="1" fill="#000"/><rect x="694" y="107" width="16" height="1" fill="#f00"/><rect x="694" y="122" width="6" height="1" fill="#f00"/><g shape-rendering="geometricPrecision"><path d="M696.500 122L702 108l5 4.500 3-3" stroke="#000" fill="none" stroke-width="1" /><text x="701.5" y="122.5" font-size="10" fill="#f00" >%</text></g><text x="718.5" y="120.5" font-size="14.5" fill="#000" shape-rendering="geometricPrecision" stroke="#000" stroke-width=".3">%</text><rect x="740" y="107" width="16" height="1" fill="#000"/><rect x="748" y="111" width="8" height="1" fill="#000"/><rect x="750" y="115" width="6" height="1" fill="#000"/><rect x="748" y="118" width="8" height="1" fill="#000"/><rect x="740" y="122" width="16" height="1" fill="#000"/><text x="739.5" y="121" font-size="10" fill="#f00" shape-rendering="geometricPrecision">%</text><circle shape-rendering="geometricPrecision" cx="771" cy="114.7" r="7.5" stroke="#a0a0a0" fill="none" stroke-width="1"/><text x="771" y="119" font-size="10" fill="#808000" text-anchor="middle" shape-rendering="geometricPrecision" stroke="#808000" stroke-width=".2">金</text><rect x="786" y="107" width="16" height="1" fill="#000"/><rect x="794" y="111" width="8" height="1" fill="#000"/><rect x="796" y="115" width="6" height="1" fill="#000"/><rect x="794" y="118" width="8" height="1" fill="#000"/><rect x="786" y="122" width="16" height="1" fill="#000"/><text x="790.5" y="120.3" font-size="10" fill="#808000" text-anchor="middle" shape-rendering="geometricPrecision" stroke="#808000" stroke-width=".2">金</text><rect x="811" y="107" width="1" height="16" fill="#000"/><rect x="809" y="122" width="5" height="1" fill="#000"/><rect x="809" y="109" width="5" height="1" fill="#000"/><rect x="809" y="112" width="5" height="1" fill="#000"/><rect x="809" y="115" width="5" height="1" fill="#000"/><rect x="809" y="118" width="5" height="1" fill="#000"/><g transform="translate(812 107) scale(0.9)"><g shape-rendering="geometricPrecision"><path d="M4 14L7.5 3.5L11.5 0L15 1L15 9.5L8 14.5z" stroke="#202020" fill="#b8b8b8" stroke-width="0.9" /><path d="M7.8 3.3L11.5 0L15 1L15 6.5L11.5 3.8z" stroke="none" fill="#f00" stroke-width="0" /><path d="M3.8 14.2L5 10.5L8 12.5L6 14.5z" stroke="none" fill="#f00" stroke-width="0" /><path d="M0.2 12.5l3.300 2.800 1-1.800" stroke="#000" fill="none" stroke-width="1" /></g></g><rect x="832" y="107" width="16" height="1" fill="#f00"/><rect x="832" y="122" width="16" height="1" fill="#f00"/><rect x="832" y="114" width="16" height="1" fill="#000"/><path d="M833 119q1.500-10 4-9t3 6 3 5.500 4-9.500" stroke="#909090" fill="none" stroke-width="1.1" shape-rendering="geometricPrecision"/><rect x="855" y="107" width="16" height="1" fill="#f00"/><rect x="855" y="122" width="16" height="1" fill="#f00"/><text x="862.5" y="120" font-size="12" fill="#808000" text-anchor="middle" shape-rendering="geometricPrecision" stroke="#808000" stroke-width=".2">金</text><g shape-rendering="geometricPrecision"><line x1="878" y1="122.5" x2="893.5" y2="107.3" stroke="#000" stroke-width="1.1" /></g><rect x="885" y="115" width="8" height="1" fill="#000"/><rect x="882" y="118" width="11" height="1" fill="#000"/><rect x="878" y="122" width="15" height="1" fill="#000"/><text x="877.5" y="116" font-size="11.5" fill="#f00"  shape-rendering="geometricPrecision">J</text><g shape-rendering="geometricPrecision"><line x1="901" y1="122.5" x2="916.5" y2="107.3" stroke="#000" stroke-width="1.1" /></g><rect x="908" y="115" width="8" height="1" fill="#000"/><rect x="905" y="118" width="11" height="1" fill="#000"/><rect x="901" y="122" width="15" height="1" fill="#000"/><text x="900.5" y="116" font-size="11.5" fill="#f00" font-weight="bold" shape-rendering="geometricPrecision">F</text><g shape-rendering="geometricPrecision"><line x1="924" y1="122.5" x2="939.5" y2="107.3" stroke="#000" stroke-width="1.1" /></g><rect x="931" y="115" width="8" height="1" fill="#000"/><rect x="928" y="118" width="11" height="1" fill="#000"/><rect x="924" y="122" width="15" height="1" fill="#000"/><text x="923" y="117" font-size="11.5" fill="#808000" shape-rendering="geometricPrecision" stroke="#808000" stroke-width=".2">金</text><g shape-rendering="geometricPrecision"><line x1="947" y1="122.5" x2="962.5" y2="107.3" stroke="#000" stroke-width="1.1" /></g><rect x="954" y="115" width="8" height="1" fill="#000"/><rect x="951" y="118" width="11" height="1" fill="#000"/><rect x="947" y="122" width="15" height="1" fill="#000"/><text x="946" y="117" font-size="11.5" fill="#f00" shape-rendering="geometricPrecision" stroke="#f00" stroke-width=".2">神</text><g shape-rendering="geometricPrecision"><line x1="970" y1="122.5" x2="985.5" y2="107.3" stroke="#000" stroke-width="1.1" /></g><rect x="977" y="115" width="8" height="1" fill="#000"/><rect x="974" y="118" width="11" height="1" fill="#000"/><rect x="970" y="122" width="15" height="1" fill="#000"/><text x="969" y="117" font-size="11.5" fill="#f00" shape-rendering="geometricPrecision" stroke="#f00" stroke-width=".2">赢</text><g shape-rendering="geometricPrecision"><line x1="993" y1="122.5" x2="1008.5" y2="107.3" stroke="#000" stroke-width="1.1" /></g><rect x="1000" y="115" width="8" height="1" fill="#000"/><rect x="997" y="118" width="11" height="1" fill="#000"/><rect x="993" y="122" width="15" height="1" fill="#000"/><text x="992" y="117" font-size="11.5" fill="#f00" shape-rendering="geometricPrecision" stroke="#f00" stroke-width=".2">四</text></svg>
</div>
<div class="dt" style="left:67px">02-14</div>
<div class="dt" style="left:126px">02-28</div>
<div class="dt" style="left:196px">03-14</div>
<div class="dt" style="left:266px">03-28</div>
<div class="dt" style="left:336px">04-14</div>
<div class="dt" style="left:406px">04-28</div>
<div class="dt" style="left:476px">05-14</div>
<div class="dt" style="left:546px">05-28</div>
<div class="dt" style="left:616px">06-12</div>
<div class="dt" style="left:685px">06-26</div>
<div class="dt" style="left:755px">07-10</div>
<div class="dt" style="left:825px">07-24</div>
<div class="dt" style="left:895px">08-07</div>
<div class="dt" style="left:965px">08-21</div>
<div class="dt" style="left:1035px">09-04</div>
<div class="dt" style="left:1105.5px">09-18</div>
<div class="hl" style="top:140px;left:66px;width:1168px;background:#a0a0a0"></div>
<div class="a ss" style="left:-1.5px;top:132.5px;font-size:13px;line-height:15px;color:#00f">日</div>
<div class="a ss" style="left:12px;top:132.5px;font-size:13px;line-height:15px;color:#00f;transform:scaleX(.66);transform-origin:0 0">K</div>
<div class="a ss" style="left:18.5px;top:132.5px;font-size:13px;line-height:15px;color:#00f">线</div>
<div class="a ss" style="left:66px;top:141px;font-size:13px;line-height:15px;color:#000">极反通道</div>
<div class="ind" style="left:137px;color:#f00">Tp=2222.7279</div>
<div class="ind" style="left:216px;color:#00f">Up=2141.5673</div>
<div class="ind" style="left:295px;color:#000">Md=2049.4606</div>
<div class="ind" style="left:373.5px;color:#00f">Dn=1925.8103</div>
<div class="ind" style="left:452px;color:#f00">Bt=1813.6464</div>
<div class="a ss" style="left:1136px;top:141px;font-size:13px;line-height:15px;color:#00f;letter-spacing:0">1A0001&nbsp; 上证指数</div>
<div class="vl" style="top:512px">1714<span style="letter-spacing:2.3px">.</span>1408</div>
<div class="vl" style="top:536px">171771468</div>
<div class="vl" style="top:552px">114514312</div>
<div class="vl" style="top:568px">57257156</div>
<div class="a" style="left:215px;top:356px;font-size:11px;line-height:13px;letter-spacing:.9px;color:#22f">1974.3800</div>
<div class="a" style="left:992px;top:211px;font-size:11px;line-height:13px;letter-spacing:.9px;color:#22f">2248.9399</div>
<div class="a ss" style="left:-3px;top:591px;font-size:13px;line-height:15px;color:#00f">说明日志</div>
<svg width="1234" height="595" style="left:0;top:0" shape-rendering="crispEdges">
<line x1="66" y1="524.5" x2="1234" y2="524.5" stroke="#a0a0a0" stroke-width="1" stroke-dasharray="3 3"/>
<line x1="66" y1="542.5" x2="1234" y2="542.5" stroke="#a0a0a0" stroke-width="1" stroke-dasharray="3 3"/>
<line x1="66" y1="558.5" x2="1234" y2="558.5" stroke="#a0a0a0" stroke-width="1" stroke-dasharray="3 3"/>
<line x1="66" y1="574.5" x2="1234" y2="574.5" stroke="#a0a0a0" stroke-width="1" stroke-dasharray="3 3"/>
<rect x="0" y="590" width="1234" height="2" fill="#8c8c8c"/>
<line x1="975" y1="210.5" x2="1185" y2="210.5" stroke="#808080" stroke-width="1" stroke-dasharray="5 1.5"/>
<path fill="#008000" d="M80 550h6V590h-6zM83 274h1V287h-1zM80 274h6V284h-6zM94 546h6V590h-6zM97 248h1V273h-1zM94 262h6V272h-6zM101 557h6V590h-6zM104 275h1V296h-1zM101 275h6V287h-6zM108 555h6V590h-6zM111 294h1V320h-1zM108 294h6V309h-6zM115 551h6V590h-6zM118 302h1V339h-1zM115 308h6V334h-6zM157 560h6V590h-6zM160 310h1V325h-1zM157 310h6V323h-6zM171 561h6V590h-6zM174 307h1V324h-1zM171 318h6V321h-6zM178 558h6V590h-6zM181 328h1V357h-1zM178 328h6V355h-6zM206 565h6V590h-6zM209 344h1V360h-1zM206 348h6V352h-6zM220 563h6V590h-6zM223 334h1V342h-1zM221 339h5v1h-5zM234 559h6V590h-6zM237 336h1V359h-1zM234 343h6V358h-6zM262 561h6V590h-6zM265 310h1V319h-1zM262 312h6V317h-6zM269 557h6V590h-6zM272 310h1V329h-1zM269 317h6V326h-6zM276 556h6V590h-6zM279 320h1V334h-1zM276 326h6V330h-6zM283 564h6V590h-6zM286 326h1V340h-1zM283 328h6V335h-6zM304 560h6V590h-6zM307 314h1V332h-1zM304 316h6V329h-6zM353 560h6V590h-6zM356 279h1V296h-1zM353 279h6V294h-6zM367 565h6V590h-6zM370 289h1V298h-1zM367 289h6V296h-6zM381 563h6V590h-6zM384 293h1V316h-1zM381 302h6V314h-6zM395 568h6V590h-6zM398 309h1V319h-1zM396 314h5v1h-5zM402 568h6V590h-6zM405 309h1V321h-1zM402 315h6V321h-6zM409 564h6V590h-6zM412 316h1V333h-1zM409 317h6V333h-6zM416 565h6V590h-6zM419 333h1V354h-1zM416 334h6V352h-6zM451 569h6V590h-6zM454 340h1V350h-1zM451 340h6V349h-6zM465 569h6V590h-6zM468 342h1V354h-1zM465 344h6V348h-6zM479 563h6V590h-6zM482 318h1V329h-1zM479 320h6V324h-6zM486 570h6V590h-6zM489 321h1V329h-1zM493 569h6V590h-6zM496 326h1V341h-1zM493 327h6V340h-6zM507 572h6V590h-6zM510 340h1V357h-1zM507 340h6V351h-6zM514 573h6V590h-6zM517 345h1V353h-1zM514 347h6V350h-6zM528 569h6V590h-6zM531 330h1V342h-1zM529 340h5v1h-5zM542 570h6V590h-6zM545 328h1V334h-1zM543 330h5v1h-5zM549 571h6V590h-6zM552 329h1V335h-1zM549 330h6V334h-6zM563 567h6V590h-6zM566 321h1V331h-1zM563 323h6V331h-6zM570 569h6V590h-6zM573 326h1V336h-1zM571 329h5v1h-5zM577 570h6V590h-6zM580 325h1V331h-1zM578 330h5v1h-5zM584 570h6V590h-6zM587 331h1V347h-1zM584 331h6V340h-6zM598 572h6V590h-6zM601 329h1V341h-1zM598 329h6V337h-6zM647 565h6V590h-6zM650 306h1V316h-1zM647 306h6V315h-6zM654 566h6V590h-6zM657 315h1V324h-1zM654 315h6V321h-6zM661 564h6V590h-6zM664 319h1V344h-1zM661 322h6V340h-6zM675 570h6V590h-6zM678 335h1V341h-1zM676 338h5v1h-5zM689 571h6V590h-6zM692 335h1V344h-1zM689 335h6V339h-6zM717 562h6V590h-6zM720 324h1V330h-1zM718 324h5v1h-5zM738 561h6V590h-6zM741 316h1V322h-1zM738 316h6V319h-6zM759 558h6V590h-6zM762 317h1V332h-1zM759 317h6V332h-6zM794 552h6V590h-6zM797 310h1V318h-1zM795 314h5v1h-5zM801 561h6V590h-6zM804 316h1V327h-1zM801 316h6V321h-6zM815 564h6V590h-6zM818 317h1V325h-1zM815 319h6V321h-6zM878 536h6V590h-6zM881 224h1V244h-1zM878 238h6V244h-6zM892 541h6V590h-6zM895 219h1V231h-1zM892 220h6V223h-6zM906 541h6V590h-6zM909 223h1V244h-1zM906 224h6V243h-6zM927 547h6V590h-6zM930 221h1V229h-1zM928 221h5v1h-5zM934 540h6V590h-6zM937 217h1V234h-1zM935 221h5v1h-5zM941 542h6V590h-6zM944 217h1V233h-1zM941 221h6V231h-6zM969 543h6V590h-6zM972 206h1V215h-1zM970 211h5v1h-5z"/>
<path fill="#f00" fill-rule="evenodd" d="M66 559h6V590h-6zM67 560V589h4V560zM69 284h1V285h-1zM69 297h1V298h-1zM66 285h6V297h-6zM67 286V296h4V286zM73 551h6V590h-6zM74 552V589h4V552zM76 272h1V273h-1zM76 280h1V284h-1zM73 273h6V280h-6zM74 274V279h4V274zM87 548h6V590h-6zM88 549V589h4V549zM90 262h1V270h-1zM90 285h1V287h-1zM87 270h6V285h-6zM88 271V284h4V271zM122 559h6V590h-6zM123 560V589h4V560zM125 338h1V346h-1zM122 330h6V338h-6zM123 331V337h4V331zM129 553h6V590h-6zM130 554V589h4V554zM132 313h1V325h-1zM132 327h1V333h-1zM129 325h6V327h-6zM136 559h6V590h-6zM137 560V589h4V560zM139 319h1V320h-1zM139 329h1V342h-1zM136 320h6V329h-6zM137 321V328h4V321zM143 554h6V590h-6zM144 555V589h4V555zM146 307h1V310h-1zM146 323h1V327h-1zM143 310h6V323h-6zM144 311V322h4V311zM150 558h6V590h-6zM151 559V589h4V559zM153 309h1V312h-1zM153 314h1V325h-1zM150 312h6V314h-6zM164 559h6V590h-6zM165 560V589h4V560zM167 315h1V318h-1zM167 325h1V336h-1zM164 318h6V325h-6zM165 319V324h4V319zM185 564h6V590h-6zM186 565V589h4V565zM188 349h1V353h-1zM188 358h1V362h-1zM185 353h6V358h-6zM186 354V357h4V354zM192 562h6V590h-6zM193 563V589h4V563zM195 347h1V355h-1zM195 356h1V370h-1zM193 355h5v1h-5zM199 562h6V590h-6zM200 563V589h4V563zM202 336h1V342h-1zM202 353h1V357h-1zM199 342h6V353h-6zM200 343V352h4V343zM213 566h6V590h-6zM214 567V589h4V567zM216 339h1V340h-1zM216 348h1V355h-1zM213 340h6V348h-6zM214 341V347h4V341zM227 563h6V590h-6zM228 564V589h4V564zM230 342h1V353h-1zM228 341h5v1h-5zM241 550h6V590h-6zM242 551V589h4V551zM244 322h1V325h-1zM241 325h6V361h-6zM242 326V360h4V326zM248 549h6V590h-6zM249 550V589h4V550zM251 309h1V314h-1zM251 324h1V329h-1zM248 314h6V324h-6zM249 315V323h4V315zM255 553h6V590h-6zM256 554V589h4V554zM258 306h1V313h-1zM258 317h1V319h-1zM255 313h6V317h-6zM256 314V316h4V314zM290 567h6V590h-6zM291 568V589h4V568zM293 336h1V338h-1zM290 325h6V336h-6zM291 326V335h4V326zM297 561h6V590h-6zM298 562V589h4V562zM300 317h1V318h-1zM300 324h1V327h-1zM297 318h6V324h-6zM298 319V323h4V319zM311 567h6V590h-6zM312 568V589h4V568zM314 318h1V319h-1zM314 332h1V334h-1zM311 319h6V332h-6zM312 320V331h4V320zM318 553h6V590h-6zM319 554V589h4V554zM321 292h1V295h-1zM321 322h1V323h-1zM318 295h6V322h-6zM319 296V321h4V296zM325 561h6V590h-6zM326 562V589h4V562zM328 289h1V291h-1zM328 295h1V298h-1zM325 291h6V295h-6zM326 292V294h4V292zM332 546h6V590h-6zM333 547V589h4V547zM335 266h1V274h-1zM335 291h1V296h-1zM332 274h6V291h-6zM333 275V290h4V275zM339 553h6V590h-6zM340 554V589h4V554zM342 271h1V276h-1zM342 277h1V283h-1zM340 276h5v1h-5zM346 561h6V590h-6zM347 562V589h4V562zM349 273h1V276h-1zM349 279h1V285h-1zM346 276h6V279h-6zM347 277V278h4V277zM360 565h6V590h-6zM361 566V589h4V566zM363 287h1V291h-1zM363 297h1V300h-1zM360 291h6V297h-6zM361 292V296h4V292zM374 565h6V590h-6zM375 566V589h4V566zM377 294h1V295h-1zM377 300h1V306h-1zM374 295h6V300h-6zM375 296V299h4V296zM388 562h6V590h-6zM389 563V589h4V563zM391 316h1V326h-1zM388 311h6V316h-6zM389 312V315h4V312zM423 569h6V590h-6zM424 570V589h4V570zM426 353h1V356h-1zM423 342h6V353h-6zM424 343V352h4V343zM430 569h6V590h-6zM431 570V589h4V570zM433 336h1V338h-1zM433 342h1V345h-1zM430 338h6V342h-6zM431 339V341h4V339zM437 568h6V590h-6zM438 569V589h4V569zM440 336h1V337h-1zM440 341h1V350h-1zM437 337h6V341h-6zM438 338V340h4V338zM444 569h6V590h-6zM445 570V589h4V570zM447 331h1V337h-1zM447 339h1V342h-1zM444 337h6V339h-6zM458 568h6V590h-6zM459 569V589h4V569zM461 332h1V344h-1zM461 350h1V351h-1zM458 344h6V350h-6zM459 345V349h4V345zM472 558h6V590h-6zM473 559V589h4V559zM475 320h1V322h-1zM475 340h1V345h-1zM472 322h6V340h-6zM473 323V339h4V323zM500 571h6V590h-6zM501 572V589h4V572zM503 337h1V338h-1zM503 340h1V347h-1zM500 338h6V340h-6zM521 573h6V590h-6zM522 574V589h4V574zM524 354h1V360h-1zM521 339h6V354h-6zM522 340V353h4V340zM535 572h6V590h-6zM536 573V589h4V573zM538 342h1V344h-1zM535 333h6V342h-6zM536 334V341h4V334zM556 567h6V590h-6zM557 568V589h4V568zM559 322h1V325h-1zM559 333h1V337h-1zM556 325h6V333h-6zM557 326V332h4V326zM591 571h6V590h-6zM592 572V589h4V572zM594 343h1V345h-1zM591 329h6V343h-6zM592 330V342h4V330zM605 572h6V590h-6zM606 573V589h4V573zM608 327h1V336h-1zM608 339h1V341h-1zM605 336h6V339h-6zM606 337V338h4V337zM612 568h6V590h-6zM613 569V589h4V569zM615 335h1V339h-1zM612 322h6V335h-6zM613 323V334h4V323zM619 569h6V590h-6zM620 570V589h4V570zM622 320h1V321h-1zM622 325h1V328h-1zM619 321h6V325h-6zM620 322V324h4V322zM626 567h6V590h-6zM627 568V589h4V568zM629 320h1V323h-1zM629 324h1V327h-1zM627 323h5v1h-5zM633 563h6V590h-6zM634 564V589h4V564zM636 310h1V311h-1zM633 311h6V324h-6zM634 312V323h4V312zM640 563h6V590h-6zM641 564V589h4V564zM643 311h1V313h-1zM640 302h6V311h-6zM641 303V310h4V303zM668 571h6V590h-6zM669 572V589h4V572zM671 337h1V338h-1zM671 347h1V348h-1zM668 338h6V347h-6zM669 339V346h4V339zM682 570h6V590h-6zM683 571V589h4V571zM685 332h1V334h-1zM685 340h1V342h-1zM682 334h6V340h-6zM683 335V339h4V335zM696 567h6V590h-6zM697 568V589h4V568zM696 331h6V339h-6zM697 332V338h4V332zM703 563h6V590h-6zM704 564V589h4V564zM706 327h1V332h-1zM706 335h1V340h-1zM703 332h6V335h-6zM704 333V334h4V333zM710 563h6V590h-6zM711 564V589h4V564zM713 322h1V325h-1zM710 325h6V332h-6zM711 326V331h4V326zM724 559h6V590h-6zM725 560V589h4V560zM727 317h1V318h-1zM727 325h1V328h-1zM724 318h6V325h-6zM725 319V324h4V319zM731 556h6V590h-6zM732 557V589h4V557zM734 314h1V316h-1zM734 324h1V326h-1zM731 316h6V324h-6zM732 317V323h4V317zM745 563h6V590h-6zM746 564V589h4V564zM748 315h1V319h-1zM748 320h1V324h-1zM746 319h5v1h-5zM752 563h6V590h-6zM753 564V589h4V564zM755 315h1V316h-1zM755 320h1V326h-1zM752 316h6V320h-6zM753 317V319h4V317zM766 563h6V590h-6zM767 564V589h4V564zM769 325h1V333h-1zM773 561h6V590h-6zM774 562V589h4V562zM776 323h1V326h-1zM776 333h1V335h-1zM773 326h6V333h-6zM774 327V332h4V327zM780 558h6V590h-6zM781 559V589h4V559zM783 313h1V314h-1zM783 325h1V328h-1zM780 314h6V325h-6zM781 315V324h4V315zM787 555h6V590h-6zM788 556V589h4V556zM790 314h1V319h-1zM787 312h6V314h-6zM808 560h6V590h-6zM809 561V589h4V561zM811 313h1V318h-1zM811 326h1V327h-1zM808 318h6V326h-6zM809 319V325h4V319zM822 556h6V590h-6zM823 557V589h4V557zM825 307h1V309h-1zM825 323h1V325h-1zM822 309h6V323h-6zM823 310V322h4V310zM829 552h6V590h-6zM830 553V589h4V553zM832 301h1V307h-1zM832 309h1V312h-1zM829 307h6V309h-6zM836 544h6V590h-6zM837 545V589h4V545zM839 289h1V291h-1zM836 291h6V306h-6zM837 292V305h4V292zM843 550h6V590h-6zM844 551V589h4V551zM846 290h1V291h-1zM843 278h6V290h-6zM844 279V289h4V279zM850 524h6V590h-6zM851 525V589h4V525zM853 245h1V247h-1zM850 247h6V274h-6zM851 248V273h4V248zM857 534h6V590h-6zM858 535V589h4V535zM860 239h1V244h-1zM860 246h1V252h-1zM857 244h6V246h-6zM864 538h6V590h-6zM865 539V589h4V539zM867 238h1V246h-1zM867 247h1V249h-1zM865 246h5v1h-5zM871 544h6V590h-6zM872 545V589h4V545zM874 232h1V233h-1zM874 248h1V251h-1zM871 233h6V248h-6zM872 234V247h4V234zM885 541h6V590h-6zM886 542V589h4V542zM888 241h1V243h-1zM885 220h6V241h-6zM886 221V240h4V221zM899 540h6V590h-6zM900 541V589h4V541zM902 220h1V224h-1zM902 228h1V240h-1zM899 224h6V228h-6zM900 225V227h4V225zM913 552h6V590h-6zM914 553V589h4V553zM916 235h1V238h-1zM916 242h1V247h-1zM913 238h6V242h-6zM914 239V241h4V239zM920 548h6V590h-6zM921 549V589h4V549zM923 219h1V220h-1zM920 220h6V235h-6zM921 221V234h4V221zM948 548h6V590h-6zM949 549V589h4V549zM951 216h1V218h-1zM951 231h1V233h-1zM948 218h6V231h-6zM949 219V230h4V219zM955 544h6V590h-6zM956 545V589h4V545zM958 209h1V211h-1zM958 217h1V219h-1zM955 211h6V217h-6zM956 212V216h4V212zM962 540h6V590h-6zM963 541V589h4V541zM965 209h1V219h-1zM962 207h6V209h-6z"/>
<g shape-rendering="crispEdges">
<polyline fill="none" stroke="#f00" stroke-width="1.2" points="69.3,173.6 76.4,178.4 83.4,180.9 90.2,182.4 97.8,180.9 111.7,180.4 118.5,178.4 125.5,181.4 133.1,182.9 140.6,182.9 148.2,186 160.8,186.7 173.4,189.7 181,188.7 188.5,190.5 198.6,191.3 208.7,193.5 216.2,193.8 223.8,196.8 231.4,197.6 241.4,196.3 249,195 259.1,194.8 265.4,195.8 276.7,194 286.8,193.5 299.4,193.5 309.5,191.3 317,189.7 322.1,187.5 327.6,189.5 334.7,184.7 344.8,184.2 354.8,182.2 362.4,180.9 372.6,179.7 385.2,179.7 402.8,181.4 423,181.9 426.8,182.9 440.6,189.7 460.8,198.6 473.4,199.8 486,202.3 501.1,204.4 521.3,208.6 536.4,209.4 549,212.4 574.2,212.7 586.8,217.5 599.4,219.5 612,220 627.1,222.8 637.2,221.8 649.8,222.3 662.4,224.3 671.3,224.8 677.6,229.6 690.2,233.3 702.8,236.4 714.2,237.1 730.6,241.4 745.7,242.9 755.8,244.4 768.4,245.9 781,244.4 797.3,243.7 811.2,244.9 820,246.7 831.4,245.2 841.4,243.4 851.5,239.6 859.1,235.9 871.7,233.3 881.8,228.8 894.4,221.2 907,216.7 922.1,210.7 937.2,205.6 952.3,199.8 959.2,197.6 970.7,193.9 984.5,192.5 998.4,191.2 1007.6,192.8 1016.8,191.4 1032.9,187.9 1049,185.2 1065.2,182.4 1081.3,181 1097.4,178.7 1115.8,176.9 1134.2,175.3 1148.1,173.4 1161.9,172.3 1175.7,172 1181.9,173.7"/>
<polyline fill="none" stroke="#00f" stroke-width="1.2" points="69.3,229.6 76.4,232.6 83.4,234.6 90.2,236.4 97.8,235.4 105.4,236.6 118.5,237.9 125.5,240.4 135.6,242.2 148.2,245.2 163.3,245.9 173.4,248.5 186,250.5 198.6,251.5 208.7,253.5 218.8,254.3 227.6,256.5 246.5,256.5 254,255.5 266.6,255.5 276.7,254.5 289.3,254.5 301.9,253.5 312,251.7 322.1,249.7 328.4,250.5 334.7,247.7 344.8,247.2 354.8,245.2 370.1,242.7 392.8,242.7 402.8,244.4 423,244.9 428,246.2 440.6,251.5 460.8,257.5 478.4,258 486,259.3 501.1,260.1 516.3,263.3 533.9,263.8 551.5,265.6 559.1,264.6 576.7,264.8 586.8,267.4 596.9,268.1 612,268.6 628.4,270.6 634.7,269.6 659.9,269.6 672.6,271.6 680.2,275.4 692.8,278.2 704.1,280.7 718,281.2 726.8,283.5 740.6,284.3 753.2,285.8 778.4,285.8 793.6,284.3 808.7,283.2 818.8,284.3 833.9,283.2 845.2,282 856.6,277.9 874.2,272.9 886.8,267.4 899.4,262.3 912,257.8 924.6,253 937.2,249.7 949.8,245.9 961.5,242.1 973,237.9 989.2,235.2 1009.9,232.2 1030.6,224.8 1053.6,220.2 1076.7,214.4 1099.7,209.4 1122.7,204.5 1145.8,199.9 1168.8,196 1181.9,194.4"/>
<polyline fill="none" stroke="#000" stroke-width="1.2" points="69.3,294.9 85.2,297.2 102.8,300.5 120.5,306.3 140.6,311 160.8,313.8 181,317.3 201.1,320.1 221.3,323.1 241.4,325.7 261.6,325.2 281.8,324.7 301.9,323.6 322.1,321.1 337.2,318.6 352.3,316.3 375.1,313.6 390.2,313.6 410.4,315.6 430.6,319.4 450.7,323.6 470.9,323.9 491,324.4 506.2,325.2 516.3,326.7 526.3,326.7 536.4,325.2 556.6,324.2 576.7,323.6 596.9,324.4 617,324.4 637.2,323.6 657.4,323.9 670.1,325.2 685.2,328.3 700.3,330.3 715.4,331.5 735.6,332.3 755.8,332.3 775.9,331.8 796.1,330 816.3,328.8 836.4,327.8 851.5,325 866.7,320.7 881.8,316.4 896.9,310.6 912,307.6 927.1,302.3 942.3,298 957.4,293 973,287 986.8,283.5 1000.7,280.1 1019.1,273.2 1037.5,265.8 1055.9,260 1074.4,253.6 1092.8,247.4 1111.2,240.9 1129.6,235.8 1148.1,229.4 1166.5,224.1 1181.9,219.7"/>
<polyline fill="none" stroke="#00f" stroke-width="1.2" points="69.3,380.6 77.6,378.6 85.2,378.6 91.5,380.1 100.3,384.1 110.4,388.7 118,393.2 128,397 138.1,401.3 148.2,402.5 160.8,405 173.4,405.8 186,407.6 196.1,410.8 211.2,412.6 221.3,413.4 233.9,416.4 244,418.9 254,418.4 261.6,416.9 281.8,416.4 301.9,415.9 319.6,416.9 328.4,413.4 337.2,413.9 352.3,411.8 375.1,409.6 392.8,409.6 410.4,411.3 425.5,415.6 435.6,415.1 448.2,415.6 460.8,412.1 473.4,413.4 486,410.6 503.6,410.6 521.3,410.1 533.9,408.3 546.5,404.5 559.1,403.3 574.2,403 586.8,398.2 601.9,398.2 617,398.7 629.6,397.2 644.8,397 657.4,395.7 670,396.2 690.2,396.3 710.4,398.8 723,398.3 740.6,396.3 755.8,395.6 768.4,393 786,392 803.6,389.5 818.8,387.5 836.4,387 851.5,385.7 866.7,380.4 881.8,378.7 896.9,375.6 912,373.6 924.6,371.6 937.2,366.8 949.8,363 960.1,358.8 970.2,356.6 983.6,349.5 1000.8,342.4 1008.4,336.1 1026,327.7 1051.2,314.1 1076.4,302.5 1101.6,291.2 1126.8,278.6 1152,267.5 1181.8,252.9"/>
<polyline fill="none" stroke="#f00" stroke-width="1.2" points="69.3,458.9 76.4,454.6 83.9,453.4 91.5,455.1 100.3,460.2 110.4,467.2 119.2,474.8 128,477.3 139.4,483.1 148.2,483.6 160.8,487.4 167.1,489.4 174.7,487.4 181,489.2 188.5,489.4 198.6,494.2 208.7,493.7 216.2,495.5 223.8,494.5 233.9,497 245.2,502.5 259.1,502.5 266.6,500.5 274.2,501.5 286.8,499.3 294.4,500.5 301.9,499.3 308.2,500.5 314.5,499.3 320.8,503 328.4,497.5 336,501.8 347.3,498.2 370.1,498.5 383.9,495.5 392.8,496.7 406.6,496.7 415.4,500 426.8,503.8 435.6,501.3 446.9,500 460.8,493.7 468.4,492.4 474.7,493.7 481,492.2 489.8,488.2 496.1,489.9 511.2,488.7 523.8,486.1 532.6,485.6 541.4,481.6 552.8,476.6 569.2,476.6 578,472.8 586.8,466.7 601.9,466.7 609.5,468 619.6,466 629.7,463.5 643.5,463.5 652.3,461.4 662.4,459.7 670.6,461.7 678.9,457.5 685.2,458.5 697.8,457.5 712.9,459.7 725.5,457.2 738.1,454.9 750.7,454.2 768.4,448.9 786,448.4 801.1,445.4 811.2,443.3 818.8,440.3 823.8,441.6 841.4,441.3 846.5,440.6 854,441.8 866.7,436 874.2,434.5 883,434.5 889.3,435.8 901.9,433.8 909.5,434.8 923.4,432.5 934.7,427.5 947.3,424.9 958.4,419.7 970.2,417.6 980.3,410.6 1000.4,400 1005.5,393.3 1013.9,386.5 1030.7,377.3 1042.5,370.6 1050.9,364.7 1067.7,355.4 1077.8,348.7 1091.5,341.6 1106.7,330.3 1126.8,317.2 1141.9,309.6 1159.6,298.8 1169.7,290.7 1181.8,283.6"/>
<line x1="195.5" y1="369" x2="215" y2="364.5" stroke="#00f" stroke-width="1"/>
<line x1="972.5" y1="205.5" x2="992" y2="210" stroke="#00f" stroke-width="1"/>
</g>
</svg>
</body></html>
